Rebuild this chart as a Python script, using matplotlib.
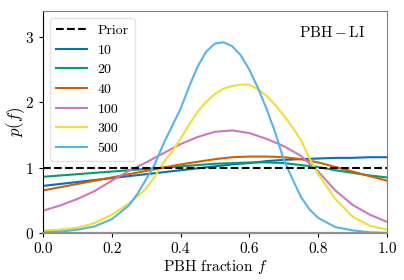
import matplotlib
matplotlib.use('Agg')
import matplotlib.pyplot as plt

plt.rcParams['font.family'] = 'serif'
plt.rcParams['font.serif'] = ['cmr10', 'DejaVu Serif']
plt.rcParams['mathtext.fontset'] = 'cm'
plt.rcParams['axes.formatter.use_mathtext'] = True

# coarse grid for the broad posteriors
f = [0.0, 0.05, 0.1, 0.15, 0.2, 0.25, 0.3, 0.35, 0.4, 0.45, 0.5,
     0.55, 0.6, 0.65, 0.7, 0.75, 0.8, 0.85, 0.9, 0.95, 1.0]
# finer grid for the peaked ones
f_fine = [0.0, 0.05, 0.1, 0.15, 0.2, 0.25, 0.275, 0.3, 0.325, 0.35, 0.375,
          0.4, 0.425, 0.45, 0.475, 0.5, 0.525, 0.55, 0.575, 0.6, 0.625,
          0.65, 0.675, 0.7, 0.725, 0.75, 0.775, 0.8, 0.85, 0.9, 0.95, 1.0]

labels = ['10', '20', '40', '100', '300', '500']
colors = ['#0173b2', '#029e73', '#d55e00', '#cc78bc', '#ece133', '#56b4e9']

p10 = [0.72, 0.75, 0.78, 0.81, 0.84, 0.87, 0.90, 0.93, 0.96, 0.99, 1.02,
       1.05, 1.07, 1.10, 1.12, 1.13, 1.14, 1.15, 1.15, 1.16, 1.16]
p20 = [0.86, 0.88, 0.90, 0.92, 0.94, 0.96, 0.98, 1.00, 1.02, 1.04, 1.06,
       1.07, 1.08, 1.08, 1.07, 1.04, 1.01, 0.96, 0.92, 0.88, 0.85]
p40 = [0.65, 0.70, 0.75, 0.80, 0.85, 0.90, 0.95, 1.00, 1.05, 1.09, 1.13,
       1.16, 1.17, 1.17, 1.16, 1.13, 1.08, 1.01, 0.94, 0.87, 0.80]
p100 = [0.34, 0.42, 0.52, 0.64, 0.80, 0.95, 1.08, 1.22, 1.36, 1.47, 1.55,
        1.57, 1.53, 1.44, 1.33, 1.18, 0.94, 0.65, 0.43, 0.28, 0.17]
p300 = [0.04, 0.05, 0.08, 0.15, 0.28, 0.45, 0.56, 0.68, 0.86, 1.08, 1.24,
        1.44, 1.66, 1.86, 2.01, 2.13, 2.21, 2.25, 2.27, 2.27, 2.20,
        2.10, 1.96, 1.80, 1.62, 1.42, 1.14, 0.90, 0.52, 0.25, 0.11, 0.05]
p500 = [0.01, 0.02, 0.05, 0.10, 0.21, 0.42, 0.60, 0.82, 1.05, 1.36, 1.63,
        1.90, 2.24, 2.55, 2.78, 2.90, 2.92, 2.86, 2.72, 2.50, 2.22,
        1.90, 1.54, 1.12, 0.83, 0.55, 0.36, 0.23, 0.09, 0.04, 0.01, 0.00]
prior = [1.0] * len(f)

series = [(f, p10), (f, p20), (f, p40), (f, p100), (f_fine, p300), (f_fine, p500)]

fig = plt.figure(figsize=(4.04, 2.8), dpi=100)
ax = fig.add_axes([0.106, 0.168, 0.852, 0.793])

ax.plot(f, prior, color='black', linestyle='--', linewidth=1.5, label='Prior', zorder=5)
for (x, vals), lab, c in zip(series, labels, colors):
    ax.plot(x, vals, color=c, linewidth=1.5, label=lab)

ax.set_xlim(0, 1)
ax.set_ylim(0, 3.4)
ax.set_xticks([0.0, 0.2, 0.4, 0.6, 0.8, 1.0])
ax.set_xticklabels(['0.0', '0.2', '0.4', '0.6', '0.8', '1.0'])
ax.set_yticks([0, 1, 2, 3])
ax.tick_params(labelsize=11, length=3, width=0.8, direction='out')
ax.set_xlabel(r'PBH fraction $f$', fontsize=11, labelpad=2)
ax.set_ylabel(r'$p(f)$', fontsize=12)
ax.yaxis.set_label_coords(-0.045, 0.5)

ax.spines['left'].set_color('black')
for s in ['top', 'right']:
    ax.spines[s].set_color('#808080')
ax.spines['bottom'].set_color('#909090')
ax.spines['bottom'].set_linewidth(1.6)

ax.text(0.84, 0.905, r'$\mathrm{PBH - LI}$', transform=ax.transAxes,
        ha='center', va='center', fontsize=11)

leg = ax.legend(loc='upper left', fontsize=10, frameon=True, fancybox=True,
                handlelength=2.2, labelspacing=0.5, borderpad=0.45)
leg.get_frame().set_edgecolor('#dddddd')

plt.savefig('out.png', dpi=100)
plt.close()
